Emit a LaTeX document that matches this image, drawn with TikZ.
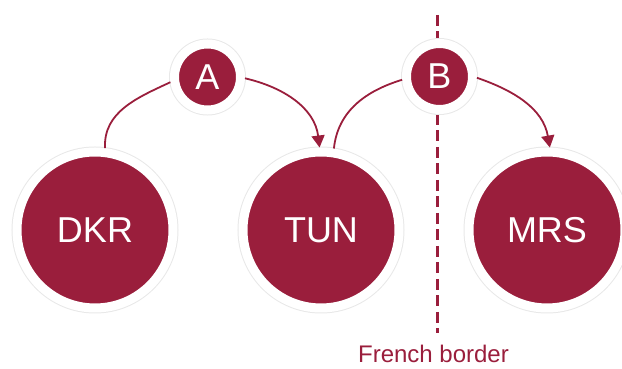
\documentclass[tikz,border=0pt]{standalone}
\usepackage{fontspec}
\setmainfont{Liberation Sans}
\usetikzlibrary{arrows.meta}
\definecolor{wine}{RGB}{154,30,60}
\tikzset{
  hub/.style={circle, inner sep=0pt, fill=wine, draw=white, line width=9pt,
    text=white, font=\fontsize{36}{40}\selectfont,
    preaction={draw=black!9, line width=11pt}},
  bighub/.style={hub, minimum size=156pt},
  tag/.style={hub, minimum size=66pt},
  route/.style={draw=wine, line width=1.8pt},
  lead/.style={route, -{Triangle[width=13pt,length=12pt]}},
  border/.style={draw=wine, line width=3pt, dash pattern=on 11pt off 5.5pt}
}
\begin{document}
\begin{tikzpicture}[x=1pt,y=1pt]
  \useasboundingbox (0,0) rectangle (622,369);
  % national border
  \coordinate (bt) at (437,354);
  \coordinate (bb) at (437,36);
  \draw[border] (bt) -- (bb);
  \node[text=wine, font=\fontsize{24}{28}\selectfont, anchor=base, inner sep=0pt] (fb) at (433.5,6) {French border};
  % airports
  \node[bighub] (DKR) at (95,139) {DKR};
  \node[bighub] (TUN) at (321,139) {TUN};
  \node[bighub] (MRS) at (547,139) {MRS};
  % legs
  \node[tag] (A) at (207.5,292) {A};
  \node[tag] (B) at (439.5,292.5) {B};
  \draw[route] (A.188) to[out=205,in=93] (DKR.83);
  \draw[lead] (A.-2) to[out=-13,in=97] (TUN.91);
  \draw[route] (B.185) to[out=197,in=84] (TUN.81);
  \draw[lead] (B.-2) to[out=-19,in=100] (MRS.88);
\end{tikzpicture}
\end{document}
